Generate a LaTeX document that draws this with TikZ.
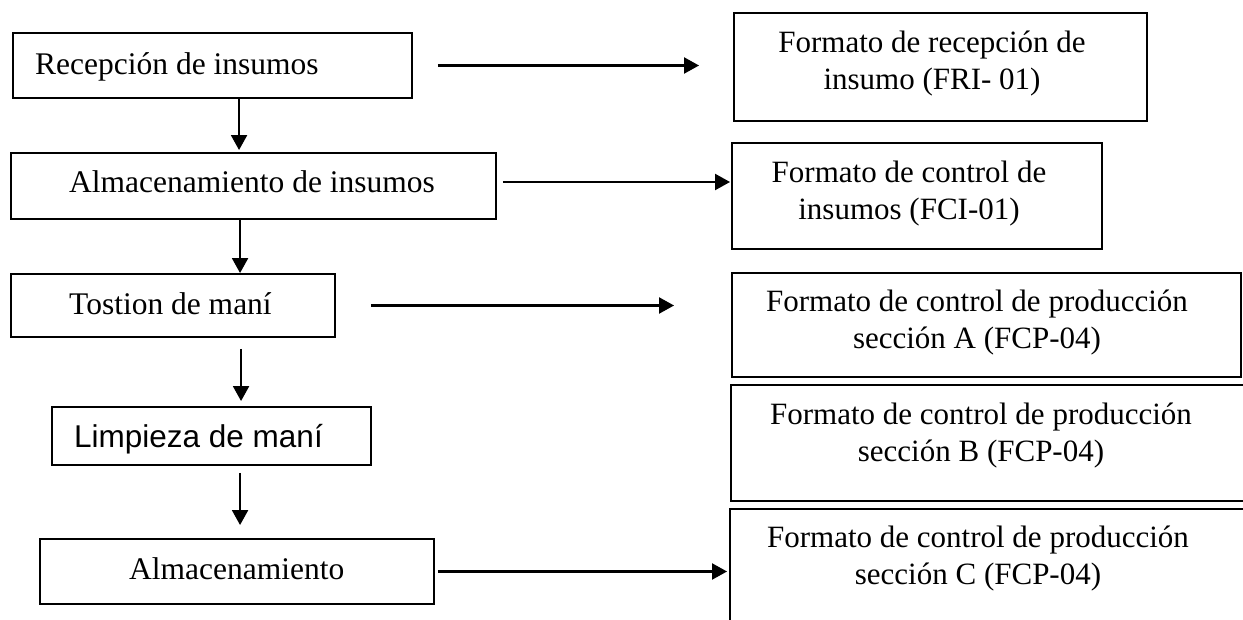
\documentclass[tikz,border=0pt]{standalone}
\usepackage{fontspec}
\setmainfont{Liberation Serif}
\newfontfamily\arialfont{Liberation Sans}
\usetikzlibrary{arrows.meta,calc}

\tikzset{
  box/.style={draw, line width=1.9pt, inner sep=0pt, rectangle},
  lbl/.style={inner sep=0pt, font=\fontsize{31.5}{37}\selectfont},
  rlbl/.style={inner sep=0pt, align=center, font=\fontsize{31}{37}\selectfont},
  arr/.style={line width=2.2pt, -{Triangle[length=15pt,width=16pt]}}
}

\begin{document}
\begin{tikzpicture}[x=1pt,y=-1pt]
\useasboundingbox (0,0) rectangle (1243,620);
\clip (0,0) rectangle (1243,620);

% process steps (left column)
\node[box, minimum width=399pt, minimum height=65pt] (b1) at (212.5,65.5) {};
\node[box, minimum width=485pt, minimum height=66pt] (b2) at (253.5,186) {};
\node[box, minimum width=324pt, minimum height=63pt] (b3) at (173,305.5) {};
\node[box, minimum width=319pt, minimum height=58pt] (b4) at (211.5,436) {};
\node[box, minimum width=394pt, minimum height=65pt] (b5) at (237,571.5) {};

\node[lbl, anchor=base west] (b1t) at (35,75) {Recepción de insumos};
\node[lbl, anchor=base west] (b2t) at (69,193) {Almacenamiento de insumos};
\node[lbl, anchor=base west] (b3t) at (69,315) {Tostion de maní};
\node[lbl, anchor=base west, font=\fontsize{31.5}{37}\arialfont] (b4t) at (74,447) {Limpieza de maní};
\node[lbl, anchor=base west] (b5t) at (129,579) {Almacenamiento};

% record formats (right column)
\node[box, minimum width=413pt, minimum height=108pt] (r1) at (940.5,67) {};
\node[box, minimum width=370pt, minimum height=106pt] (r2) at (917,196) {};
\node[box, minimum width=509pt, minimum height=104pt] (r3) at (986.5,325) {};
\node[box, minimum width=540pt, minimum height=116pt] (r4) at (1001,443) {};
\node[box, minimum width=540pt, minimum height=140pt] (r5) at (1000,579) {};

\node[rlbl] (r1t) at (932,64) {Formato de recepción de\\insumo (FRI- 01)};
\node[rlbl] (r2t) at (909,194) {Formato de control de\\insumos (FCI-01)};
\node[rlbl] (r3t) at (977,323) {Formato de control de producción\\sección A (FCP-04)};
\node[rlbl] (r4t) at (981,436) {Formato de control de producción\\sección B (FCP-04)};
\node[rlbl] (r5t) at (978,559) {Formato de control de producción\\sección C (FCP-04)};

% flow downwards
\draw[arr] ($(b1.south west)+(227,0)$) -- ($(b2.north west)+(229,-2)$);
\draw[arr] ($(b2.south west)+(230,0)$) -- ($(b3.north west)+(230,0)$);
\draw[arr] ($(b3.south west)+(231,11)$) -- ($(b4.north west)+(190,-5)$);
\draw[arr] ($(b4.south west)+(189,7)$) -- ($(b5.north west)+(201,-13)$);

% links to the formats
\draw[arr] ($(b1.east)+(25,0)$) -- ($(b1.east -| r1.west)+(-34,0)$);
\draw[arr] ($(b2.east)+(6,-4)$) -- ($(b2.east -| r2.west)+(-1,-4)$);
\draw[arr] ($(b3.east)+(35,0)$) -- ($(b3.east -| r3.west)+(-57,0)$);
\draw[arr] ($(b5.east)+(3,0)$) -- ($(b5.east -| r5.west)+(-2,0)$);
\end{tikzpicture}
\end{document}
